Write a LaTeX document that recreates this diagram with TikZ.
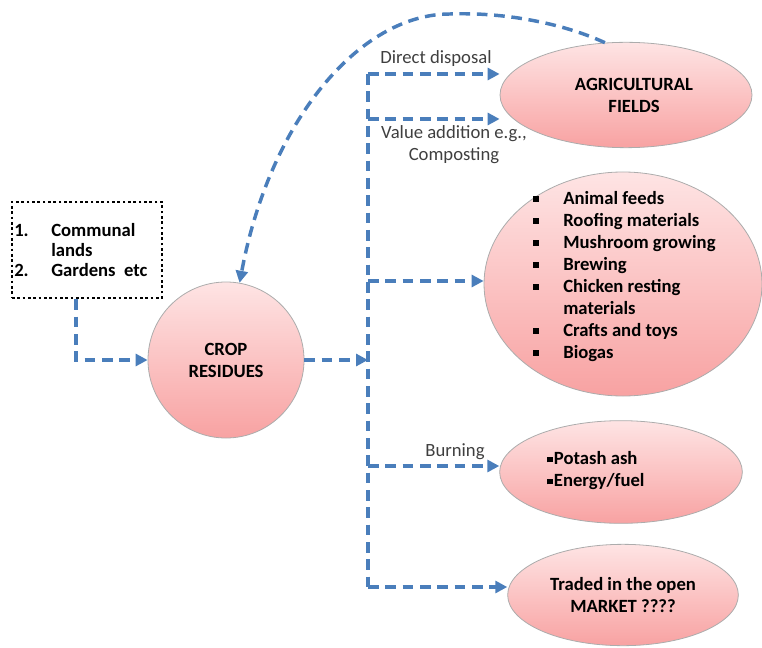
\documentclass[tikz,border=0pt]{standalone}
\usepackage{fontspec}
\setmainfont{Carlito}
\usepackage{xcolor}
\usepackage{tikz}
\usetikzlibrary{shapes.geometric,arrows.meta}

\definecolor{flowblue}{HTML}{4A7EBB}
\definecolor{pinktop}{HTML}{FEE4E4}
\definecolor{pinkbot}{HTML}{F8A2A2}
\definecolor{labelgray}{HTML}{3F3F3F}
\newcommand{\sqbul}{\rule[2pt]{4pt}{4pt}}

\begin{document}
\begin{tikzpicture}[x=0.75pt, y=-0.75pt,
  every node/.style={font=\fontsize{14}{16.5}\selectfont},
  blob/.style={ellipse, draw=gray!65, line width=0.6pt, top color=pinktop, bottom color=pinkbot, inner sep=0pt},
  flow/.style={draw=flowblue, line width=2.6pt, dash pattern=on 8pt off 5pt},
  flowarrow/.style={flow, -{Triangle[length=9pt,width=9pt]}},
  edgetext/.style={text=labelgray, align=center, inner sep=0pt},
  bodytext/.style={font=\fontsize{14}{16.5}\selectfont\bfseries, inner sep=0pt, align=center}]
  \useasboundingbox (0,0) rectangle (762,648);

  % where the residues come from
  \node[draw, line width=2pt, dash pattern=on 2pt off 2pt,
        minimum width=112.5pt, minimum height=72pt] (sources) at (87,250) {};
  \node[bodytext, font=\fontsize{14}{15}\selectfont\bfseries, anchor=west] (sourcesText) at (14,253)
      {\begin{tabular}{@{}p{27.75pt}@{}l@{}}1. & Communal\\ & lands\\ 2. & Gardens\ \ etc\end{tabular}};

  \node[blob, circle, minimum size=117pt, bodytext] (crop) at (226,360) {CROP\\RESIDUES};

  % destinations
  \node[blob, minimum width=189pt, minimum height=79pt, bodytext] (fields) at (626,95)
      {\hspace{12pt}AGRICULTURAL\\\hspace{12pt}FIELDS};
  \node[blob, minimum width=208.5pt, minimum height=168pt] (uses) at (623,284) {};
  \node[bodytext, anchor=west, align=left] (usesText) at (533,277)
      {\begin{tabular}{@{}p{22.5pt}@{}l@{}}
        \sqbul & Animal feeds\\
        \sqbul & Roofing materials\\
        \sqbul & Mushroom growing\\
        \sqbul & Brewing\\
        \sqbul & Chicken resting\\
               & materials\\
        \sqbul & Crafts and toys\\
        \sqbul & Biogas
      \end{tabular}};
  \node[blob, minimum width=182pt, minimum height=77pt] (burn) at (621,472) {};
  \node[bodytext, anchor=west, align=left] (burnText) at (547,471)
      {\sqbul\hspace{1pt}Potash ash\\\sqbul\hspace{1pt}Energy/fuel};
  \node[blob, minimum width=173pt, minimum height=76pt, bodytext] (market) at (623,595)
      {Traded in the open\\MARKET ????};

  % the bus
  \coordinate (busTop) at (368,74);
  \coordinate (valueBranch) at (368,119);
  \coordinate (usesBranch) at (368,281);
  \coordinate (split) at (368,357);
  \coordinate (burnBranch) at (368,466);
  \coordinate (busBottom) at (368,587);

  \draw[flowarrow] ([xshift=-8.25pt]sources.south) |- (crop.west);
  \draw[flowarrow] (crop.east) -- (crop.east -| split);
  \draw[flow] (busTop) -- (busBottom);
  \foreach \b/\t in {busTop/fields, valueBranch/fields, usesBranch/uses, burnBranch/burn, busBottom/market}
    \draw[flowarrow] (\b) -- (\b -| \t.west);

  % back to the residues
  \draw[flowarrow] (fields.112) .. controls (560,22) and (500,12) .. (450,14)
                   .. controls (360,14) and (270,120) .. (crop.80);

  \node[edgetext] (directLbl) at (436,59) {Direct disposal};
  \node[edgetext] (valueLbl) at (454,145) {Value addition e.g.,\\Composting};
  \node[edgetext] (burnLbl) at (455,452) {Burning};
\end{tikzpicture}
\end{document}
